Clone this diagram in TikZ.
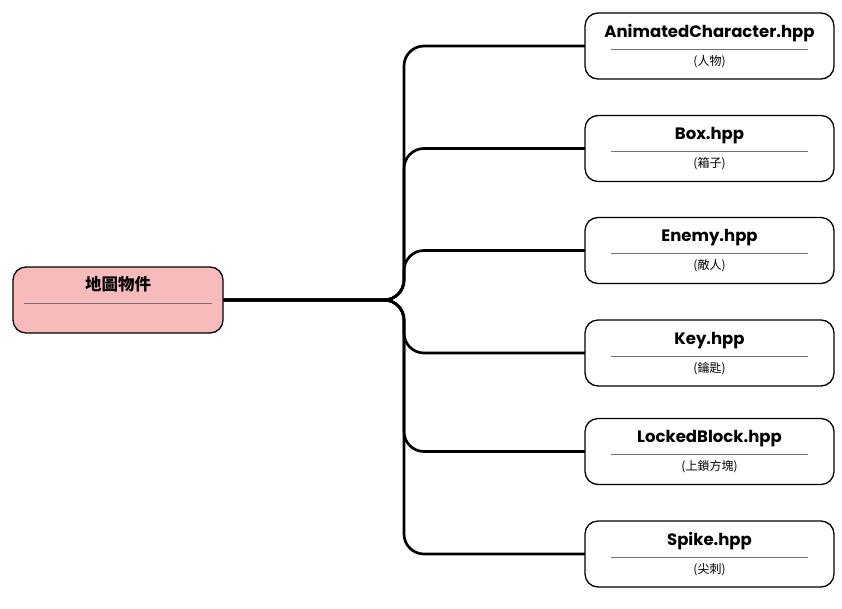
\documentclass[tikz,border=0pt]{standalone}
\usepackage{fontspec}
\setmainfont{Poppins}
\newfontfamily\cjk{Noto Sans CJK TC}
\definecolor{rootpink}{HTML}{F8BBBB}
\begin{document}
\begin{tikzpicture}[x=1pt,y=-1pt,
    classbox/.style={draw,line width=1.3pt,rounded corners=13pt,
      minimum width=249pt,minimum height=66pt,fill=white},
    rootbox/.style={classbox,minimum width=210pt,fill=rootpink},
    titletext/.style={anchor=base,font=\bfseries\fontsize{16.5}{18}\selectfont},
    subtext/.style={anchor=base,font=\cjk\fontsize{12}{14}\selectfont},
    rule/.style={draw=black!55,line width=0.9pt},
    link/.style={line width=2.7pt,rounded corners=20pt}]
    \useasboundingbox (0,0) rectangle (842,608);
    % root
    \node[rootbox] (root) at (118,300) {};
    \node[titletext] at ([yshift=-24pt]root.north) {\cjk\bfseries 地圖物件};
    \draw[rule] ([xshift=12pt,yshift=-37pt]root.north west)
      -- ([xshift=-12pt,yshift=-37pt]root.north east);
    % classes
    \foreach \name/\y/\file/\desc in {anim/46/AnimatedCharacter.hpp/人物,
        box/148.5/Box.hpp/箱子, enemy/250.5/Enemy.hpp/敵人,
        key/353/Key.hpp/鑰匙, locked/451.5/LockedBlock.hpp/上鎖方塊,
        spike/554/Spike.hpp/尖刺} {
      \draw[link] (root.east) -- (404,300) |- (709.5,\y);
      \node[classbox] (\name) at (709.5,\y) {};
      \node[titletext] at ([yshift=-25pt]\name.north) {\file};
      \draw[rule] ([xshift=27pt,yshift=-37pt]\name.north west)
        -- ([xshift=-27pt,yshift=-37pt]\name.north east);
      \node[subtext] at ([yshift=-53pt]\name.north) {(\desc)};
    }
  \end{tikzpicture}
\end{document}
